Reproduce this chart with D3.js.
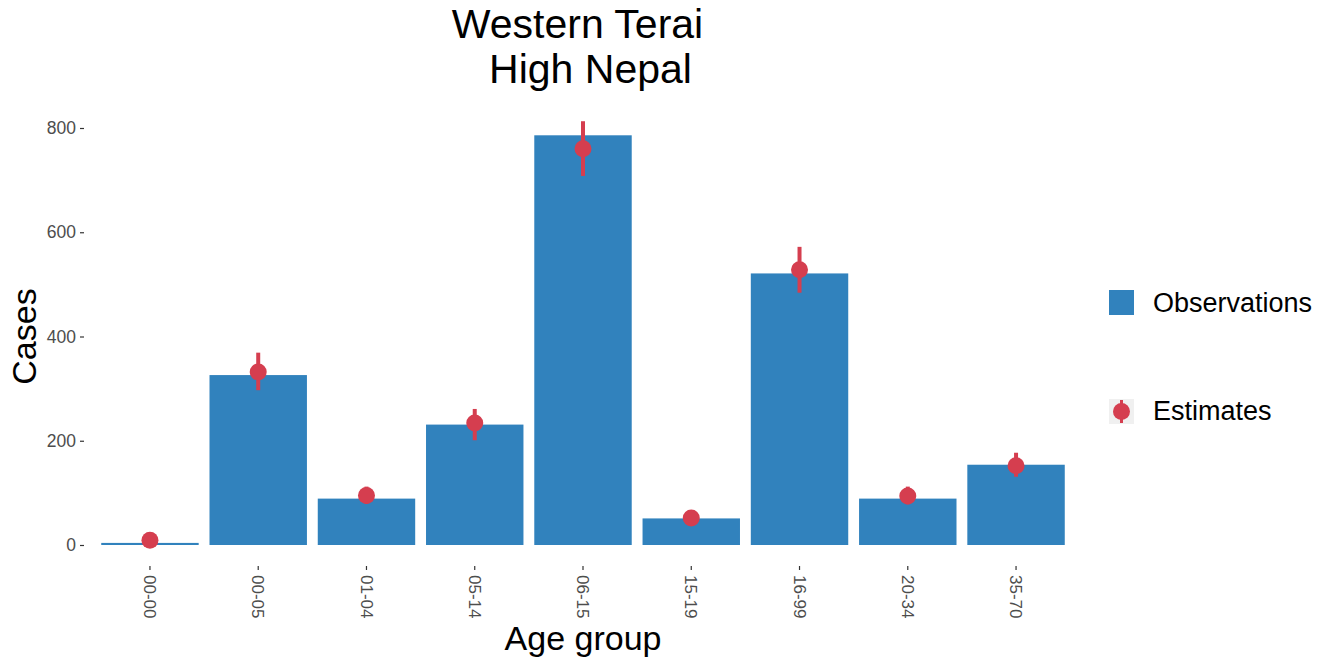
<!DOCTYPE html>
<html>
<head>
<meta charset="utf-8">
<script src="https://cdn.jsdelivr.net/npm/d3@7"></script>
<style>
  body { margin: 0; background: #fff; }
  svg { display: block; font-family: "Liberation Sans", Arial, sans-serif; }
</style>
</head>
<body>
<svg id="chart" width="1328" height="659"></svg>
<script>
// ---- data ----
const categories = ["00-00", "00-05", "01-04", "05-14", "06-15", "15-19", "16-99", "20-34", "35-70"];
const observations = [4, 326, 89, 231, 786, 51, 521, 89, 154];
const estimates = [9, 332, 95, 234, 760, 52, 528, 94, 152];
const estLower = [6, 297, 79, 201, 708, 44, 484, 78, 131];
const estUpper = [12, 369, 112, 261, 813, 60, 572, 112, 177];
const yTicks = [0, 200, 400, 600, 800];
const titleLines = ["Western Terai", "High Nepal"];
const legendLabels = ["Observations", "Estimates"];

const blue = "#3182bd";
const red = "#d53e4f";

const svg = d3.select("#chart");

const x = d3.scaleBand()
  .domain(categories)
  .range([85, 1081])
  .paddingInner(0.1)
  .paddingOuter(0.15);

const y = d3.scaleLinear()
  .domain([0, 800])
  .range([545, 128]);

// bars
svg.append("g").selectAll("rect")
  .data(categories)
  .join("rect")
  .attr("x", d => x(d))
  .attr("width", x.bandwidth())
  .attr("y", (d, i) => y(observations[i]))
  .attr("height", (d, i) => y(0) - y(observations[i]))
  .attr("fill", blue);

// error bars
svg.append("g").selectAll("line")
  .data(categories)
  .join("line")
  .attr("x1", d => x(d) + x.bandwidth() / 2)
  .attr("x2", d => x(d) + x.bandwidth() / 2)
  .attr("y1", (d, i) => y(estLower[i]))
  .attr("y2", (d, i) => y(estUpper[i]))
  .attr("stroke", red)
  .attr("stroke-width", 4);

// points
svg.append("g").selectAll("circle")
  .data(categories)
  .join("circle")
  .attr("cx", d => x(d) + x.bandwidth() / 2)
  .attr("cy", (d, i) => y(estimates[i]))
  .attr("r", 8.5)
  .attr("fill", red);

// y axis
const yAxis = svg.append("g")
  .attr("transform", "translate(84,0)")
  .call(d3.axisLeft(y).tickValues(yTicks).tickSize(4).tickPadding(4));
yAxis.select(".domain").remove();
yAxis.selectAll(".tick line").attr("stroke", "#333").attr("stroke-width", 1.2);
yAxis.selectAll(".tick text")
  .attr("fill", "#4d4d4d")
  .style("font-size", "17.5px")
  .style("font-family", "'Liberation Sans', Arial, sans-serif");

// x axis
const xAxis = svg.append("g")
  .attr("transform", "translate(0,566)")
  .call(d3.axisBottom(x).tickSize(4).tickPadding(4));
xAxis.select(".domain").remove();
xAxis.selectAll(".tick line").attr("stroke", "#333").attr("stroke-width", 1.2);
xAxis.selectAll(".tick text")
  .attr("fill", "#4d4d4d")
  .style("font-size", "17px")
  .style("font-family", "'Liberation Sans', Arial, sans-serif")
  .attr("transform", "rotate(90)")
  .attr("x", 9)
  .attr("y", 0)
  .attr("dy", "0.35em")
  .attr("text-anchor", "start");

// axis titles
const panelCenter = (x.range()[0] + x.range()[1]) / 2;
svg.append("text")
  .attr("x", panelCenter)
  .attr("y", 650)
  .attr("text-anchor", "middle")
  .style("font-size", "34px")
  .attr("fill", "#000")
  .text("Age group");

svg.append("text")
  .attr("transform", `translate(36,${(y(0) + y(800)) / 2}) rotate(-90)`)
  .attr("text-anchor", "middle")
  .style("font-size", "34px")
  .attr("fill", "#000")
  .text("Cases");

// title
svg.append("text")
  .attr("x", panelCenter - 5.5)
  .attr("y", 38)
  .attr("text-anchor", "middle")
  .style("font-size", "41px")
  .attr("fill", "#000")
  .text(titleLines[0]);
svg.append("text")
  .attr("x", panelCenter + 7.5)
  .attr("y", 83)
  .attr("text-anchor", "middle")
  .style("font-size", "41px")
  .attr("fill", "#000")
  .text(titleLines[1]);

// legend
const lg = svg.append("g");
lg.append("rect")
  .attr("x", 1109).attr("y", 290).attr("width", 25).attr("height", 25)
  .attr("fill", blue);
lg.append("text")
  .attr("x", 1153).attr("y", 312)
  .style("font-size", "27px").attr("fill", "#000")
  .text(legendLabels[0]);

lg.append("rect")
  .attr("x", 1109).attr("y", 399).attr("width", 25).attr("height", 25)
  .attr("fill", "#f0f0f0");
lg.append("line")
  .attr("x1", 1121.5).attr("x2", 1121.5).attr("y1", 400).attr("y2", 423)
  .attr("stroke", red).attr("stroke-width", 3);
lg.append("circle")
  .attr("cx", 1121.5).attr("cy", 411.5).attr("r", 8.5)
  .attr("fill", red);
lg.append("text")
  .attr("x", 1153).attr("y", 420)
  .style("font-size", "27px").attr("fill", "#000")
  .text(legendLabels[1]);
</script>
</body>
</html>
